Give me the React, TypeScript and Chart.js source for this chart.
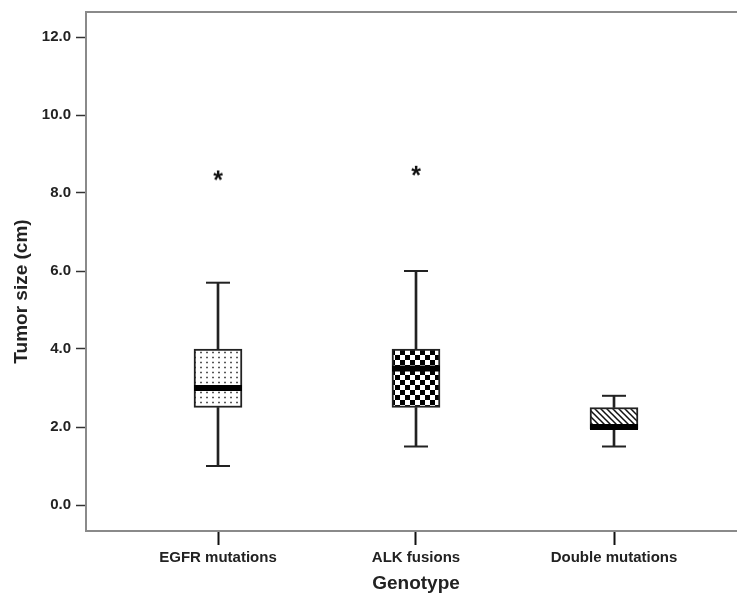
import React, { useEffect, useRef } from 'react';
import { Chart, registerables } from 'chart.js';

Chart.register(...registerables);

// ---- data ----
const categories = ['EGFR mutations', 'ALK fusions', 'Double mutations'];
const categoryPositions = [0, 1, 2];
const whiskerLow = [1.0, 1.5, 1.5];
const q1 = [2.5, 2.5, 1.95];
const median = [3.0, 3.5, 2.0];
const q3 = [4.0, 4.0, 2.5];
const whiskerHigh = [5.7, 6.0, 2.8];
const outliers: number[][] = [[8.45], [8.57], []];
const yTicks = [0, 2, 4, 6, 8, 10, 12];
const yTitle = 'Tumor size (cm)';
const xTitle = 'Genotype';

const FONT = '"Liberation Sans", Arial, Helvetica, sans-serif';

function makePatterns(ctx: CanvasRenderingContext2D) {
  // dotted
  const d = document.createElement('canvas');
  d.width = 6; d.height = 5;
  const dc = d.getContext('2d')!;
  dc.fillStyle = '#fff'; dc.fillRect(0, 0, 6, 5);
  dc.fillStyle = '#222'; dc.fillRect(2.25, 1.75, 1.5, 1.5);
  // checker
  const c = document.createElement('canvas');
  c.width = 10; c.height = 10;
  const cc = c.getContext('2d')!;
  cc.fillStyle = '#fff'; cc.fillRect(0, 0, 10, 10);
  cc.fillStyle = '#000'; cc.fillRect(0, 0, 5, 5); cc.fillRect(5, 5, 5, 5);
  // hatch
  const h = document.createElement('canvas');
  h.width = 6; h.height = 6;
  const hc = h.getContext('2d')!;
  hc.fillStyle = '#fff'; hc.fillRect(0, 0, 6, 6);
  hc.strokeStyle = '#111'; hc.lineWidth = 1.5;
  hc.beginPath();
  hc.moveTo(-1, -1); hc.lineTo(7, 7);
  hc.moveTo(-1, 5); hc.lineTo(1, 7);
  hc.moveTo(5, -1); hc.lineTo(7, 1);
  hc.stroke();
  return [
    ctx.createPattern(d, 'repeat')!,
    ctx.createPattern(c, 'repeat')!,
    ctx.createPattern(h, 'repeat')!,
  ];
}

function makeStar() {
  const s = document.createElement('canvas');
  s.width = 16; s.height = 16;
  const sc = s.getContext('2d')!;
  sc.fillStyle = '#111';
  sc.font = `bold 25px ${FONT}`;
  sc.textAlign = 'center';
  sc.textBaseline = 'alphabetic';
  const m = sc.measureText('*');
  const asc = m.actualBoundingBoxAscent;
  const desc = m.actualBoundingBoxDescent;
  const base = 8 + (asc - desc) / 2;
  sc.fillText('*', 8, base);
  return s;
}

const titlesPlugin = {
  id: 'titlesPlugin',
  afterDraw(chart: any) {
    const { ctx } = chart;
    const ys = chart.scales.y;
    const xs = chart.scales.x;
    const mid = (ys.top + ys.bottom) / 2 + 20;
    ctx.save();
    ctx.font = `bold 19px ${FONT}`;
    ctx.fillStyle = '#222';
    ctx.textAlign = 'center';
    ctx.textBaseline = 'middle';
    // x title, centred on the middle category of the (partly clipped) axis
    ctx.fillText(xTitle, xs.getPixelForValue(categoryPositions[1]), xs.bottom - 11);
    // y title
    ctx.translate(22, mid);
    ctx.rotate(-Math.PI / 2);
    ctx.fillText(yTitle, 0, 0);
    ctx.restore();
  },
};

export default function App() {
  const ref = useRef<HTMLCanvasElement>(null);

  useEffect(() => {
    document.body.style.margin = '0';
    const canvas = ref.current!;
    const ctx = canvas.getContext('2d')!;
    const patterns = makePatterns(ctx);
    const star = makeStar();

    const xMin = -132 / 198;
    const xMax = xMin + 651 / 198;
    const yMin = -26 / 39;
    const yMax = 12 + 25 / 39;

    const outlierPts: { x: number; y: number }[] = [];
    outliers.forEach((arr, i) => arr.forEach((v) => outlierPts.push({ x: categoryPositions[i], y: v })));

    const chart = new Chart(ctx, {
      type: 'bar',
      plugins: [titlesPlugin],
      data: {
        datasets: [
          {
            type: 'scatter',
            label: 'median',
            data: categoryPositions.map((x, i) => ({ x, y: median[i] })),
            pointStyle: 'line',
            pointRadius: 24,
            borderColor: '#000',
            borderWidth: 6,
            order: 0,
          } as any,
          {
            type: 'scatter',
            label: 'outliers',
            data: outlierPts,
            pointStyle: star,
            pointRadius: 8,
            order: 1,
          } as any,
          {
            type: 'scatter',
            label: 'capHigh',
            data: categoryPositions.map((x, i) => ({ x, y: whiskerHigh[i] })),
            pointStyle: 'line',
            pointRadius: 12,
            borderColor: '#222',
            borderWidth: 2,
            order: 1,
          } as any,
          {
            type: 'scatter',
            label: 'capLow',
            data: categoryPositions.map((x, i) => ({ x, y: whiskerLow[i] })),
            pointStyle: 'line',
            pointRadius: 12,
            borderColor: '#222',
            borderWidth: 2,
            order: 1,
          } as any,
          {
            type: 'bar',
            label: 'box',
            data: categoryPositions.map((x, i) => ({ x, y: [q1[i], q3[i]] })),
            backgroundColor: patterns,
            borderColor: '#222',
            borderWidth: 2,
            borderSkipped: false,
            barThickness: 48,
            grouped: false,
            order: 2,
          } as any,
          {
            type: 'bar',
            label: 'stemHigh',
            data: categoryPositions.map((x, i) => ({ x, y: [q3[i], whiskerHigh[i]] })),
            backgroundColor: '#222',
            borderWidth: 0,
            barThickness: 2,
            grouped: false,
            order: 3,
          } as any,
          {
            type: 'bar',
            label: 'stemLow',
            data: categoryPositions.map((x, i) => ({ x, y: [whiskerLow[i], q1[i]] })),
            backgroundColor: '#222',
            borderWidth: 0,
            barThickness: 2,
            grouped: false,
            order: 3,
          } as any,
        ],
      },
      options: {
        animation: false,
        responsive: false,
        events: [],
        layout: { padding: 0, autoPadding: false },
        plugins: { legend: { display: false }, tooltip: { enabled: false } },
        scales: {
          x: {
            type: 'linear',
            position: 'bottom',
            min: xMin,
            max: xMax,
            offset: false,
            afterBuildTicks: (s: any) => {
              s.ticks = categoryPositions.map((v) => ({ value: v }));
            },
            afterFit: (s: any) => {
              s.height = 64;
              s.paddingLeft = 0;
              s.paddingRight = 0;
            },
            ticks: {
              autoSkip: false,
              maxRotation: 0,
              padding: 4,
              color: '#222',
              font: { family: FONT, size: 15, weight: 'bold' },
              callback: (v: any) => {
                const idx = categoryPositions.indexOf(Number(v));
                return idx >= 0 ? categories[idx] : '';
              },
            },
            grid: {
              offset: false,
              drawOnChartArea: false,
              drawTicks: true,
              tickLength: 14,
              tickColor: '#111',
              tickWidth: 2,
            },
            border: { display: true, color: '#8a8a8a', width: 2 },
            title: { display: false },
          },
          xTop: {
            type: 'linear',
            position: 'top',
            min: xMin,
            max: xMax,
            offset: false,
            ticks: { display: false },
            grid: { display: false },
            border: { display: true, color: '#8a8a8a', width: 2 },
            afterFit: (s: any) => {
              s.height = 12;
              s.paddingLeft = 0;
              s.paddingRight = 0;
            },
          },
          y: {
            type: 'linear',
            min: yMin,
            max: yMax,
            beginAtZero: false,
            afterBuildTicks: (s: any) => {
              s.ticks = yTicks.map((v) => ({ value: v }));
            },
            afterFit: (s: any) => {
              s.width = 86;
              s.paddingTop = 0;
              s.paddingBottom = 0;
            },
            ticks: {
              padding: 5,
              color: '#222',
              font: { family: FONT, size: 15, weight: 'bold' },
              callback: (v: any) => Number(v).toFixed(1),
            },
            grid: {
              drawOnChartArea: false,
              drawTicks: true,
              tickLength: 10,
              tickColor: '#333',
              tickWidth: 1.5,
            },
            border: { display: true, color: '#8a8a8a', width: 2 },
            title: { display: false },
          },
        } as any,
      },
    } as any);

    return () => chart.destroy();
  }, []);

  return (
    <div style={{ width: 737, height: 595 }}>
      <canvas ref={ref} width={737} height={595} style={{ display: 'block' }} />
    </div>
  );
}
